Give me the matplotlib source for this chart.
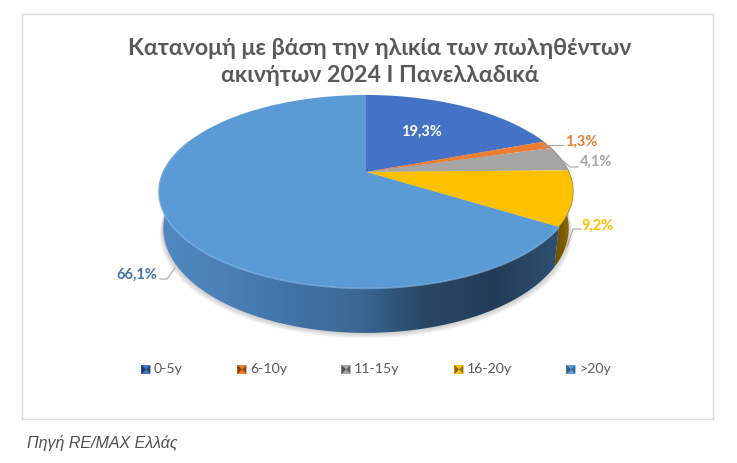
import numpy as np
import matplotlib
matplotlib.use("Agg")
import matplotlib.pyplot as plt
from matplotlib.colors import LinearSegmentedColormap
from matplotlib.patches import Polygon, Rectangle

categories = ["0-5y", "6-10y", "11-15y", "16-20y", ">20y"]
values = [19.3, 1.3, 4.1, 9.2, 66.1]
value_labels = ["19,3%", "1,3%", "4,1%", "9,2%", "66,1%"]
colors = ["#4472C4", "#ED7D31", "#A5A5A5", "#FFC000", "#5B9BD5"]
title_lines = "Κατανομή με βάση την ηλικία των πωληθέντων\nακινήτων 2024 Ι Πανελλαδικά"
source_text = "Πηγή RE/MAX Ελλάς"

plt.rcParams["font.family"] = ["Lato", "Open Sans", "DejaVu Sans"]

fig = plt.figure(figsize=(7.37, 4.63), dpi=100)
ax = fig.add_axes([0, 0, 1, 1])


# the pie is a circle seen in perspective, angle is clockwise from the top
def rim(angle):
	t = np.radians(angle)
	den = 1 + 0.202 * np.cos(t)
	return 366 + 203 * np.sin(t) / den, (172 - 57.8 * np.cos(t)) / den


def lower(x, y):
	return 366 + (x - 366) * 0.978, y * 1.083 + 21


def wall(start, end):
	x, y = rim(np.linspace(start, end, 120))
	bx, by = lower(x, y)
	return np.r_[x, bx[::-1]], np.r_[y, by[::-1]]


def gradient_wall(start, end, stops):
	x, y = wall(start, end)
	cmap = LinearSegmentedColormap.from_list("w", stops)
	im = ax.imshow(np.linspace(0, 1, 256)[None, :], cmap=cmap, aspect="auto",
		extent=[x.min(), x.max(), y.max(), y.min()], zorder=3)
	im.set_clip_path(Polygon(np.c_[x, y], transform=ax.transData))


# frame
ax.add_patch(Rectangle((22.5, 13.5), 691, 405, fc="white", ec="#d9d9d9", lw=1, zorder=0))

# soft shadow under the pie
sx, sy = rim(np.linspace(0, 360, 240))
sx, sy = lower(sx, sy)
for grow in range(10, 0, -1):
	ax.fill(366 + (sx - 366) * (1 + grow * 0.0018), sy + grow * 0.55, color="#808080",
		alpha=0.045, lw=0, zorder=1)

edges = np.cumsum([0] + values) * 3.6

# side walls, stops run left to right
gradient_wall(edges[3], edges[4], ["#6b5000", "#7a5c00", "#a67c00"])
gradient_wall(edges[4], 290, ["#5189c0", "#4a80b6", "#4273a6", "#3a6795", "#294765", "#223c58", "#2f5070"])

# top face
for i in range(5):
	a = np.linspace(edges[i], edges[i + 1], 100)
	x, y = rim(a)
	ax.fill(np.r_[366, x], np.r_[172, y], color=colors[i], lw=0, zorder=4)

# light bevel along the front edge
hx, hy = rim(np.linspace(edges[4], 290, 160))
ax.plot(hx, hy + 0.5, color="#7db3e8", lw=1.1, alpha=0.7, zorder=5)
ex, ey = rim(np.linspace(20, edges[4], 60))
ax.plot(ex[ex > 530], ey[ex > 530], color="#5a5a5a", lw=0.6, alpha=0.5, zorder=5)

# leader lines
leaders = [
	([543, 563], [145, 145]),
	([562, 570, 578], [160, 167, 167]),
	([567, 573, 581], [247, 229, 229]),
	([160, 167, 175], [279, 279, 268]),
]
for lx, ly in leaders:
	ax.plot(lx, ly, color="#a6a6a6", lw=0.8, zorder=6)

# value labels
label_colors = ["white", "#ED7D31", "#A5A5A5", "#FFC000", "#4472A8"]
label_x = [421, 581, 596, 598, 137]
label_y = [132, 142, 162, 226, 275]
for i in range(5):
	ax.text(label_x[i], label_y[i], value_labels[i], color=label_colors[i], fontsize=10.5,
		fontweight="bold", ha="center", va="center", zorder=7)

# title
ax.text(380, 62, title_lines, color="#595959", fontsize=16.7, fontweight="bold",
	ha="center", va="center", linespacing=1.33, zorder=7)

# legend with the little bevelled squares
legend_x = [146, 242, 346, 459, 571]
dark = ["#1f3864", "#843c0c", "#525252", "#7f6000", "#2e5c85"]
for i in range(5):
	mx = legend_x[i]
	my = 369.5
	h = 4.5
	ax.add_patch(Rectangle((mx - h, my - h), 2 * h, 2 * h, fc=colors[i], lw=0, zorder=6))
	ax.fill([mx - h, mx, mx - h], [my - h, my, my + h], color=dark[i], lw=0, zorder=7)
	ax.fill([mx + h, mx, mx + h], [my - h, my, my + h], color=dark[i], alpha=0.8, lw=0, zorder=7)
	ax.text(mx + 8, my - 0.5, categories[i], color="#595959", fontsize=10.2, ha="left", va="center", zorder=7)

# source
ax.text(27, 443, source_text, color="#505050", fontsize=11.5, style="italic",
	family="Liberation Sans", ha="left", va="center", zorder=7)

ax.set_xlim(0, 737)
ax.set_ylim(463, 0)
ax.axis("off")

fig.savefig("out.png", dpi=100, facecolor="white")
